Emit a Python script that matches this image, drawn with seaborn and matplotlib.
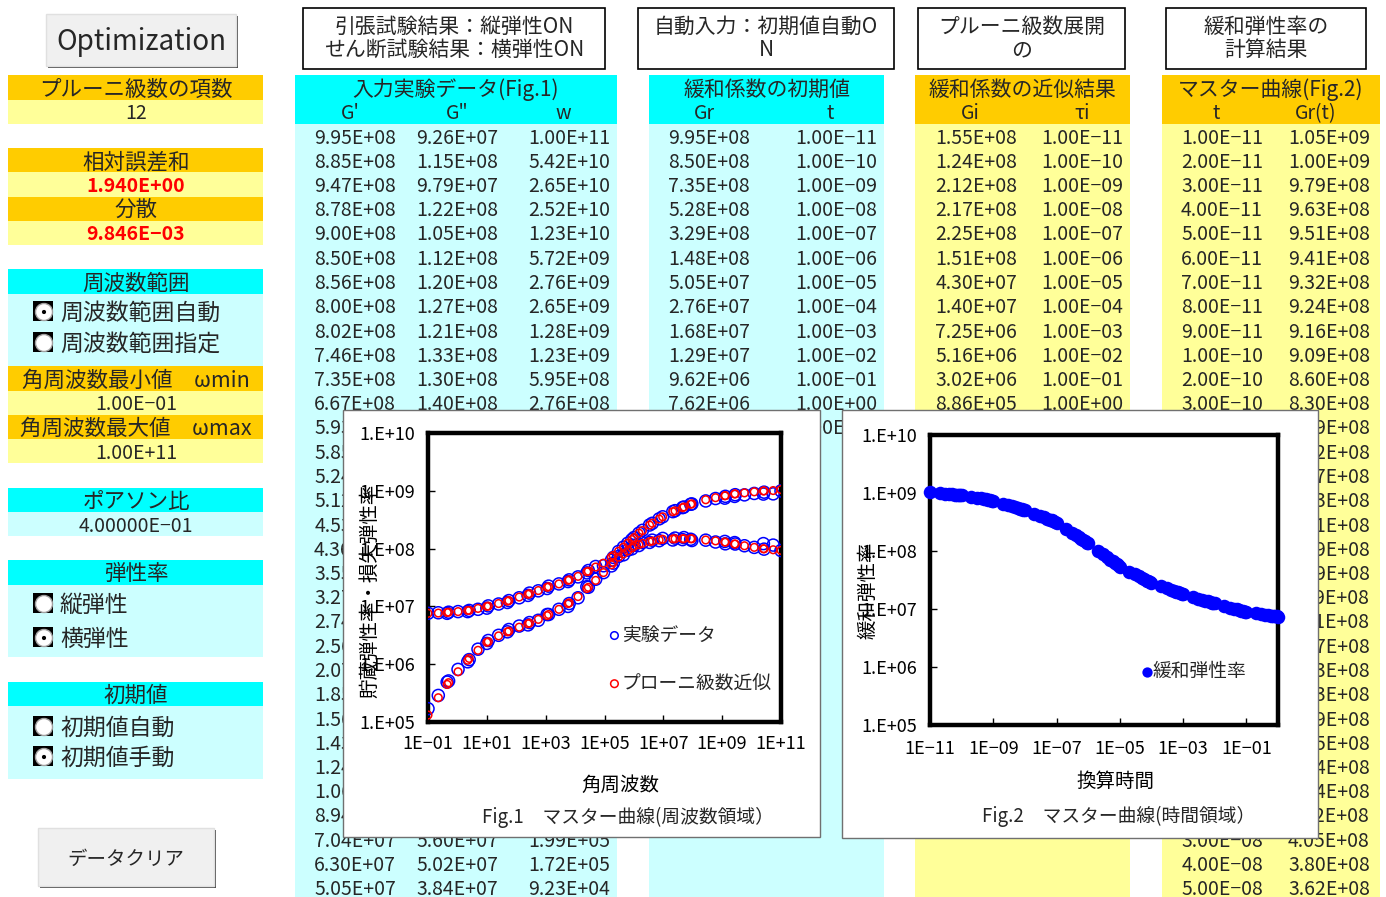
import numpy as np
import matplotlib
matplotlib.use("Agg")
import matplotlib.pyplot as plt
import seaborn as sns
from matplotlib.patches import Rectangle, Circle
from matplotlib.ticker import FixedLocator, FuncFormatter, NullLocator

sns.set_theme(style="white")
plt.rcParams['font.family'] = ['Noto Sans CJK JP', 'DejaVu Sans']

# ---- 入力実験データ (Fig.1) ----
w = [1.00e11, 5.42e10, 2.65e10, 2.52e10, 1.23e10, 5.72e9, 2.76e9, 2.65e9, 1.28e9, 1.23e9,
     5.95e8, 2.76e8, 9.30e7, 8.50e7, 5.00e7, 4.50e7, 2.50e7, 2.10e7, 9.50e6, 7.20e6,
     4.20e6, 3.40e6, 1.95e6, 1.48e6, 1.02e6, 8.50e5, 6.20e5, 4.40e5, 3.00e5, 1.99e5,
     1.72e5, 9.23e4, 5.01e4, 2.82e4, 2.51e4, 1.26e4, 6.31e3, 5.75e3, 2.82e3, 1.26e3,
     1.12e3, 5.62e2, 2.82e2, 2.51e2, 1.26e2, 5.62e1, 5.01e1, 2.51e1, 1.12e1, 1.00e1,
     5.01, 2.51, 2.24, 1.05, 0.501, 0.447, 0.224, 0.100]
gp_exp = [9.95e8, 8.85e8, 9.47e8, 8.78e8, 9.00e8, 8.50e8, 8.56e8, 8.00e8, 8.02e8, 7.46e8,
          7.35e8, 6.67e8, 5.93e8, 5.85e8, 5.24e8, 5.12e8, 4.53e8, 4.36e8, 3.55e8, 3.27e8,
          2.74e8, 2.56e8, 2.07e8, 1.85e8, 1.56e8, 1.43e8, 1.24e8, 1.06e8, 8.94e7, 7.04e7,
          6.30e7, 5.05e7, 4.90e7, 4.17e7, 3.80e7, 3.24e7, 2.88e7, 2.69e7, 2.45e7, 2.24e7,
          2.04e7, 1.86e7, 1.70e7, 1.55e7, 1.41e7, 1.26e7, 1.17e7, 1.10e7, 1.02e7, 9.33e6,
          8.91e6, 8.51e6, 8.13e6, 8.13e6, 7.94e6, 7.59e6, 7.76e6, 7.59e6]
gpp_exp = [9.26e7, 1.15e8, 9.79e7, 1.22e8, 1.05e8, 1.12e8, 1.20e8, 1.27e8, 1.21e8, 1.33e8,
           1.30e8, 1.40e8, 1.38e8, 1.45e8, 1.55e8, 1.43e8, 1.52e8, 1.41e8, 1.50e8, 1.37e8,
           1.40e8, 1.28e8, 1.27e8, 1.13e8, 1.14e8, 9.90e7, 9.40e7, 7.80e7, 7.30e7, 5.60e7,
           5.02e7, 3.84e7, 2.95e7, 2.14e7, 2.19e7, 1.41e7, 1.12e7, 1.00e7, 8.91e6, 7.24e6,
           7.24e6, 5.75e6, 5.25e6, 4.79e6, 4.57e6, 3.98e6, 3.63e6, 3.16e6, 2.57e6, 2.29e6,
           1.82e6, 1.20e6, 1.10e6, 8.13e5, 5.13e5, 4.90e5, 2.88e5, 1.70e5]
# プローニ級数近似
gp_fit = [1.05e9, 1.01e9, 9.95e8, 9.93e8, 9.60e8, 9.20e8, 8.85e8, 8.83e8, 8.25e8, 8.20e8,
          7.60e8, 7.00e8, 5.95e8, 5.85e8, 5.25e8, 5.10e8, 4.50e8, 4.35e8, 3.55e8, 3.25e8,
          2.75e8, 2.55e8, 2.05e8, 1.85e8, 1.55e8, 1.43e8, 1.24e8, 1.06e8, 9.00e7, 7.60e7,
          7.15e7, 5.60e7, 4.80e7, 4.07e7, 3.98e7, 3.31e7, 2.88e7, 2.82e7, 2.45e7, 2.19e7,
          2.14e7, 1.88e7, 1.66e7, 1.62e7, 1.45e7, 1.26e7, 1.23e7, 1.12e7, 1.01e7, 1.00e7,
          9.23e6, 8.51e6, 8.51e6, 8.13e6, 7.94e6, 7.85e6, 7.67e6, 7.59e6]
gpp_fit = [9.33e7, 9.55e7, 9.90e7, 9.95e7, 1.05e8, 1.12e8, 1.20e8, 1.20e8, 1.29e8, 1.30e8,
           1.36e8, 1.41e8, 1.48e8, 1.48e8, 1.48e8, 1.48e8, 1.48e8, 1.47e8, 1.45e8, 1.41e8,
           1.35e8, 1.32e8, 1.23e8, 1.17e8, 1.10e8, 1.02e8, 9.10e7, 8.10e7, 7.10e7, 5.75e7,
           5.25e7, 3.85e7, 2.82e7, 2.14e7, 2.04e7, 1.48e7, 1.15e7, 1.12e7, 8.90e6, 7.24e6,
           6.92e6, 5.96e6, 5.13e6, 5.01e6, 4.37e6, 3.72e6, 3.63e6, 3.09e6, 2.45e6, 2.40e6,
           1.74e6, 1.26e6, 1.17e6, 7.40e5, 4.79e5, 4.47e5, 2.63e5, 1.32e5]

# ---- 緩和係数 ----
init_gr = [9.95e8, 8.50e8, 7.35e8, 5.28e8, 3.29e8, 1.48e8, 5.05e7, 2.76e7, 1.68e7, 1.29e7,
           9.62e6, 7.62e6, 6.80e6]
init_t = [1e-11, 1e-10, 1e-9, 1e-8, 1e-7, 1e-6, 1e-5, 1e-4, 1e-3, 1e-2, 1e-1, 1e0, 1e1]
prony_gi = [1.55e8, 1.24e8, 2.12e8, 2.17e8, 2.25e8, 1.51e8, 4.30e7, 1.40e7, 7.25e6, 5.16e6,
            3.02e6, 8.86e5]
prony_tau = [1e-11, 1e-10, 1e-9, 1e-8, 1e-7, 1e-6, 1e-5, 1e-4, 1e-3, 1e-2, 1e-1, 1e0]

# ---- マスター曲線 (Fig.2) ----
t_mant = [1, 2, 3, 4, 5, 6, 7, 8, 9]
t_exp = list(range(-11, 0))
t_master = [m * 10.0 ** e for e in t_exp for m in t_mant] + [1.0]
gr_master = [1.05e9, 1.00e9, 9.79e8, 9.63e8, 9.51e8, 9.41e8, 9.32e8, 9.24e8, 9.16e8,
             9.09e8, 8.60e8, 8.30e8, 8.09e8, 7.92e8, 7.77e8, 7.63e8, 7.51e8, 7.39e8,
             7.29e8, 6.59e8, 6.21e8, 5.97e8, 5.73e8, 5.53e8, 5.39e8, 5.25e8, 5.14e8,
             5.04e8, 4.42e8, 4.05e8, 3.80e8, 3.62e8, 3.48e8, 3.36e8, 3.26e8, 3.17e8,
             3.05e8, 2.39e8, 2.07e8, 1.87e8, 1.73e8, 1.62e8, 1.53e8, 1.46e8, 1.40e8,
             1.35e8, 1.02e8, 8.72e7, 7.78e7, 7.12e7, 6.62e7, 6.23e7, 5.90e7, 5.63e7,
             5.40e7, 4.43e7, 3.95e7, 3.64e7, 3.41e7, 3.24e7, 3.10e7, 2.98e7, 2.89e7,
             2.80e7, 2.45e7, 2.27e7, 2.15e7, 2.06e7, 1.99e7, 1.93e7, 1.88e7, 1.84e7,
             1.80e7, 1.61e7, 1.51e7, 1.45e7, 1.39e7, 1.36e7, 1.32e7, 1.29e7, 1.27e7,
             1.25e7, 1.13e7, 1.06e7, 1.02e7, 9.85e6, 9.59e6, 9.38e6, 9.20e6, 9.04e6,
             8.90e6, 8.42e6, 8.15e6, 7.97e6, 7.82e6, 7.71e6, 7.61e6, 7.53e6, 7.46e6,
             7.40e6]

# 左パネルの値
n_terms = 12
err_sum = 1.940
variance = 9.846e-3
w_min = 1.0e-1
w_max = 1.0e11
poisson = 0.4

ORANGE, LYELLOW, CYAN, LCYAN = '#FFCC00', '#FFFF99', '#00FFFF', '#CCFFFF'
W, H = 1386, 897
N_ROWS = 32
# グラフ枠 (x0, x1, y0, y1) in px
BOX1 = (343, 820, 410, 837)
BOX2 = (842, 1318, 410, 838)

fig = plt.figure(figsize=(W / 100, H / 100), dpi=100)
bg = fig.add_axes([0, 0, 1, 1])
bg.set_xlim(0, W)
bg.set_ylim(H, 0)
bg.axis('off')


def yc(r):
    return 136 + 24.25 * r


def band(x0, x1, y0, y1, color, z=1, ec='none', lw=0):
    bg.add_patch(Rectangle((x0, y0), x1 - x0, y1 - y0, facecolor=color,
                           edgecolor=ec, linewidth=lw, zorder=z))


def txt(x, y, s, size=13.5, ha='center', z=3, **kw):
    # CJKフォントは少し上に寄るので 2px 下げる
    bg.text(x, y + 2, s, fontsize=size, ha=ha, va='center', zorder=z, **kw)


def sci(v, d=2):
    return f"{v:.{d}E}".replace("-", "\u2212")


def hidden(xc, y):
    # グラフ枠の下に完全に隠れるセル
    for bx0, bx1, by0, by1 in (BOX1, BOX2):
        if xc - 43 >= bx0 and xc + 43 <= bx1 and y - 10 >= by0 and y + 10 <= by1:
            return True
    return False


def button(x0, x1, y0, y1, label, size):
    band(x0 + 2, x1 + 2, y0 + 2, y1 + 2, '#505050', z=2)
    band(x0, x1, y0, y1, '#F0F0F0', z=3, ec='#E0E0E0', lw=1)
    txt((x0 + x1) / 2, (y0 + y1) / 2, label, size, z=4)


def radio(y, label, on):
    bg.add_patch(Rectangle((33, y - 10), 20, 20, fc='black', ec='none', zorder=3))
    bg.add_patch(Circle((44, y + 1), 8.5, fc='white', ec='#A0A0A0', lw=1, zorder=4))
    if on:
        bg.add_patch(Circle((44, y + 1), 2.8, fc='black', zorder=5))
    txt(60, y, label, 16.5, ha='left')


# ---- 左パネル ----
button(46, 236, 14, 66, 'Optimization', 20)
LX0, LX1, LXC = 8, 263, 136


def lcell(r, fill, s, size=15.5, **kw):
    band(LX0, LX1, yc(r) - 12.1, yc(r) + 12.1, fill)
    txt(LXC, yc(r), s, size, **kw)


lcell(-2, ORANGE, 'プルーニ級数の項数')
lcell(-1, LYELLOW, str(n_terms), 14)
lcell(1, ORANGE, '相対誤差和')
lcell(2, LYELLOW, sci(err_sum, 3), 14, color='red', fontweight='bold')
lcell(3, ORANGE, '分散')
lcell(4, LYELLOW, sci(variance, 3), 14, color='red', fontweight='bold')
lcell(6, CYAN, '周波数範囲')
band(LX0, LX1, yc(7) - 12.1, yc(10) - 12.1, LCYAN)
radio(311, '周波数範囲自動', True)
radio(342, '周波数範囲指定', False)
lcell(10, ORANGE, '角周波数最小値　ωmin')
lcell(11, LYELLOW, sci(w_min), 14)
lcell(12, ORANGE, '角周波数最大値　ωmax')
lcell(13, LYELLOW, sci(w_max), 14)
lcell(15, CYAN, 'ポアソン比')
lcell(16, LCYAN, sci(poisson, 5), 14)
lcell(18, CYAN, '弾性率')
band(LX0, LX1, yc(19) - 12.1, yc(21) + 12.1, LCYAN)
radio(603, '縦弾性', False)
radio(637, '横弾性', True)
lcell(23, CYAN, '初期値')
band(LX0, LX1, yc(24) - 12.1, yc(26) + 12.1, LCYAN)
radio(726, '初期値自動', False)
radio(756, '初期値手動', True)
button(38, 214, 828, 886, 'データクリア', 14)

# ---- 見出しボックス ----
for x0, x1, l1, l2 in [(303, 605, '引張試験結果：縦弾性ON', 'せん断試験結果：横弾性ON'),
                       (638, 894, '自動入力：初期値自動O', 'N'),
                       (918, 1125, 'プルーニ級数展開', 'の'),
                       (1166, 1366, '緩和弾性率の', '計算結果')]:
    band(x0, x1, 8, 69, 'white', z=2, ec='black', lw=1.2)
    txt((x0 + x1) / 2, 25, l1, 15)
    txt((x0 + x1) / 2, 48, l2, 15)

# ---- 表 ----
groups = [
    (295, 617, CYAN, LCYAN, '入力実験データ(Fig.1)',
     [(350, "G'"), (457, 'G"'), (563, 'w')],
     [(355, gp_exp[:N_ROWS]), (457, gpp_exp[:N_ROWS]), (569, w[:N_ROWS])]),
    (649, 884, CYAN, LCYAN, '緩和係数の初期値',
     [(704, 'Gr'), (830, 't')],
     [(709, init_gr), (836, init_t)]),
    (915, 1130, ORANGE, LYELLOW, '緩和係数の近似結果',
     [(970, 'Gi'), (1082, 'τi')],
     [(976, prony_gi), (1082, prony_tau)]),
    (1162, 1380, ORANGE, LYELLOW, 'マスター曲線(Fig.2)',
     [(1216, 't'), (1316, 'Gr(t)')],
     [(1222, t_master[:N_ROWS]), (1329, gr_master[:N_ROWS])]),
]
for x0, x1, hc, dc, title, heads, cols in groups:
    band(x0, x1, yc(-2) - 12.1, yc(0) - 12.1, hc)
    band(x0, x1, yc(0) - 12.1, H, dc)
    txt((x0 + x1) / 2, yc(-2), title, 15)
    for xh, s in heads:
        txt(xh, yc(-1), s, 14)
    for xc, vals in cols:
        for r, v in enumerate(vals):
            if not hidden(xc, yc(r)):
                txt(xc, yc(r), sci(v), 14)

# ---- グラフ枠 ----
band(BOX1[0], BOX1[1], BOX1[2], BOX1[3], 'white', z=5, ec='#707070', lw=1)
band(BOX2[0], BOX2[1], BOX2[2], BOX2[3], 'white', z=5, ec='#707070', lw=1)
txt(628, 815, 'Fig.1　マスター曲線(周波数領域）', 13.5, z=6)
txt(1119, 814, 'Fig.2　マスター曲線(時間領域）', 13.5, z=6)


def ax_px(x0, y0, x1, y1):
    return fig.add_axes([x0 / W, (H - y1) / H, (x1 - x0) / W, (y1 - y0) / H])


def style(ax, xticks, xlim):
    ax.set_xscale('log')
    ax.set_yscale('log')
    ax.set_xlim(*xlim)
    ax.set_ylim(1e5, 1e10)
    ax.xaxis.set_major_locator(FixedLocator(xticks))
    ax.xaxis.set_minor_locator(NullLocator())
    ax.yaxis.set_major_locator(FixedLocator([10.0 ** k for k in range(5, 11)]))
    ax.yaxis.set_minor_locator(NullLocator())
    ax.xaxis.set_major_formatter(FuncFormatter(
        lambda v, p: ("1E" + f"{round(np.log10(v)):+03d}").replace("-", "\u2212")))
    ax.yaxis.set_major_formatter(FuncFormatter(
        lambda v, p: "1.E" + f"{round(np.log10(v)):+03d}"))
    for s in ax.spines.values():
        s.set_visible(True)
        s.set_color('black')
        s.set_linewidth(3.2)
    ax.tick_params(axis='both', which='major', direction='in', length=5, width=1,
                   colors='black', labelsize=13, bottom=True, left=True)
    ax.tick_params(axis='y', pad=9)
    ax.set_facecolor('white')
    ax.grid(False)


# Fig.1
ax1 = ax_px(428, 433, 781, 722)
sns.scatterplot(x=w, y=gp_exp, ax=ax1, s=75, color='#0000FF', facecolor='none',
                edgecolor='#0000FF', linewidth=1.1, label='実験データ', zorder=3)
sns.scatterplot(x=w, y=gpp_exp, ax=ax1, s=75, color='#0000FF', facecolor='none',
                edgecolor='#0000FF', linewidth=1.1, zorder=3)
sns.scatterplot(x=w, y=gp_fit, ax=ax1, s=30, color='#FF0000', facecolor='none',
                edgecolor='#FF0000', linewidth=1.1, label='プローニ級数近似', zorder=4)
sns.scatterplot(x=w, y=gpp_fit, ax=ax1, s=30, color='#FF0000', facecolor='none',
                edgecolor='#FF0000', linewidth=1.1, zorder=4)
style(ax1, [10.0 ** k for k in range(-1, 12, 2)], (1e-1, 1e11))
ax1.tick_params(axis='x', pad=9)
ax1.set_xlabel('角周波数', fontsize=14, color='black')
ax1.set_ylabel('貯蔵弾性率・損失弾性率', fontsize=14, color='black')
ax1.xaxis.set_label_coords(0.545, -0.183)
ax1.yaxis.set_label_coords(-0.136, 0.455)
leg = ax1.legend(loc='upper left', bbox_to_anchor=(0.475, 0.37), frameon=False,
                 fontsize=13.5, labelspacing=1.45, handletextpad=-0.1, borderpad=0,
                 handlelength=1.0)
for hnd in leg.legend_handles:
    hnd.set_sizes([30])

# Fig.2
ax2 = ax_px(930, 435, 1278, 725)
sns.scatterplot(x=t_master, y=gr_master, ax=ax2, s=95, color='#0000FF',
                edgecolor='#0000FF', linewidth=0, label='緩和弾性率', zorder=3, clip_on=False)
style(ax2, [10.0 ** k for k in range(-11, 0, 2)], (1e-11, 1e0))
ax2.tick_params(axis='x', pad=11)
ax2.set_xlabel('換算時間', fontsize=14, color='black')
ax2.set_ylabel('緩和弾性率', fontsize=14, color='black')
ax2.xaxis.set_label_coords(0.532, -0.16)
ax2.yaxis.set_label_coords(-0.147, 0.466)
leg2 = ax2.legend(loc='center left', bbox_to_anchor=(0.574, 0.186), frameon=False,
                  fontsize=13.5, handletextpad=-0.1, borderpad=0, handlelength=0.8)
for hnd in leg2.legend_handles:
    hnd.set_sizes([55])

fig.savefig('out.png', dpi=100)
